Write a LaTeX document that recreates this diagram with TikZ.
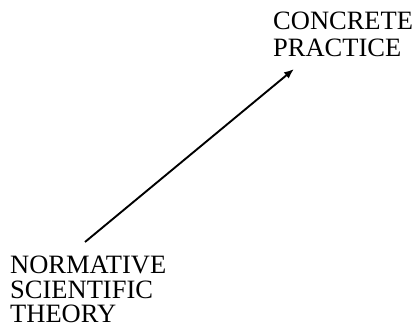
\documentclass[tikz,border=0pt]{standalone}
\usepackage{fontspec}
\setmainfont{Liberation Serif}
\usetikzlibrary{arrows.meta}
\begin{document}
\begin{tikzpicture}[x=1pt,y=1pt,
  label/.style={inner sep=0pt,align=left,anchor=base west,font=\fontsize{26.5}{26.5}\selectfont},
  link/.style={line width=1.9pt,-{Latex[length=10pt,width=8pt]}}]
\useasboundingbox (0,0) rectangle (417,327);
% top-right label
\node[label] (concrete) at (273,297) {CONCRETE};
\node[label] (practice) at (273,270) {PRACTICE};
% bottom-left label
\node[label] (normative) at (10,54) {NORMATIVE};
\node[label] (scientific) at (10,29) {SCIENTIFIC};
\node[label] (theory) at (10,4.5) {THEORY};
% arrow from theory towards practice
\coordinate (from) at (85,85);
\coordinate (to) at (294,258);
\draw[link] (from) -- (to);
\end{tikzpicture}
\end{document}
